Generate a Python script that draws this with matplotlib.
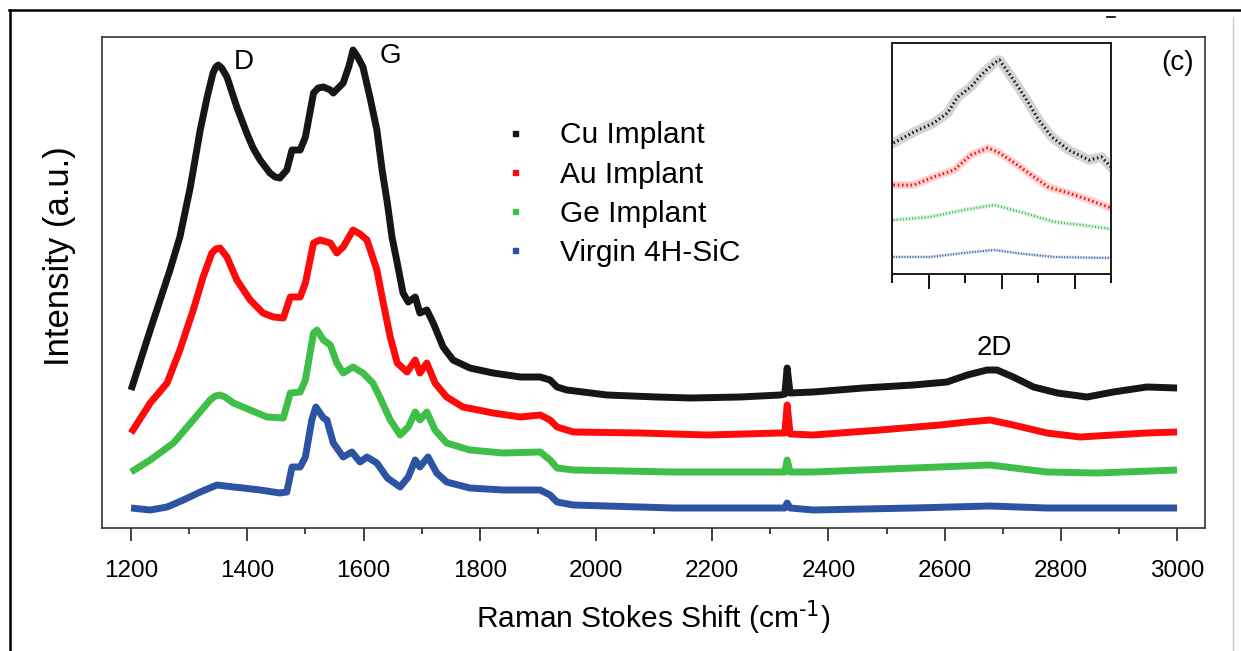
import matplotlib
matplotlib.use("Agg")
import matplotlib.pyplot as plt
from matplotlib.lines import Line2D
from matplotlib.ticker import MultipleLocator, NullFormatter

plt.rcParams['font.family'] = ['Liberation Sans', 'DejaVu Sans']

# ---------------- data ----------------
series_names = ["Cu Implant", "Au Implant", "Ge Implant", "Virgin 4H-SiC"]
series_colors = ["#161616", "#ff0a0a", "#3fbf48", "#2d54a3"]

cu_x = [1200, 1233, 1267, 1284, 1302, 1319, 1331, 1341, 1346, 1350, 1356, 1365, 1382, 1399, 1410,
        1422, 1439, 1448, 1456, 1468, 1477, 1491, 1500, 1514, 1522, 1531, 1543, 1548, 1565, 1575,
        1582, 1590, 1599, 1611, 1623, 1632, 1641, 1649, 1658, 1668, 1677, 1689, 1697, 1709, 1720,
        1737, 1754, 1783, 1823, 1870, 1904, 1921, 1933, 1950, 2019, 2105, 2162, 2248, 2317, 2325,
        2329, 2334, 2374, 2460, 2546, 2604, 2639, 2673, 2690, 2718, 2753, 2794, 2845, 2890, 2948,
        3000]
cu_y = [138, 198, 258, 291, 341, 398, 431, 455, 461, 463, 460, 451, 421, 395, 380,
        368, 355, 351, 350, 358, 378, 378, 391, 435, 440, 441, 438, 435, 445, 462,
        478, 471, 461, 431, 398, 358, 325, 291, 265, 235, 226, 231, 215, 218, 205,
        181, 168, 160, 155, 151, 151, 148, 141, 138, 133, 131, 130, 131, 133, 134,
        160, 135, 136, 140, 143, 146, 153, 158, 158, 151, 141, 135, 131, 136, 141,
        140]

au_x = [1200, 1233, 1262, 1284, 1307, 1324, 1339, 1346, 1353, 1365, 1382, 1405, 1427, 1445, 1462,
        1474, 1491, 1500, 1514, 1525, 1543, 1554, 1565, 1582, 1594, 1606, 1623, 1634, 1646, 1658,
        1675, 1689, 1697, 1709, 1723, 1743, 1771, 1823, 1870, 1904, 1921, 1933, 1961, 2076, 2191,
        2317, 2325, 2329, 2334, 2374, 2489, 2592, 2639, 2678, 2718, 2776, 2833, 2890, 2948, 3000]
au_y = [95, 125, 145, 178, 218, 251, 275, 279, 280, 271, 248, 228, 215, 211, 210,
        231, 231, 245, 285, 288, 285, 275, 281, 298, 294, 288, 258, 225, 191, 165,
        156, 168, 155, 165, 145, 131, 121, 115, 111, 113, 108, 101, 96, 95, 93,
        95, 95, 123, 94, 93, 98, 103, 106, 108, 103, 95, 91, 93, 95, 96]

ge_x = [1200, 1233, 1273, 1307, 1336, 1345, 1353, 1362, 1376, 1405, 1434, 1462, 1474, 1491, 1500,
        1514, 1520, 1531, 1543, 1554, 1565, 1582, 1599, 1616, 1628, 1646, 1663, 1677, 1689, 1697,
        1709, 1723, 1743, 1783, 1840, 1904, 1921, 1933, 1961, 2133, 2317, 2325, 2329, 2334, 2374,
        2546, 2678, 2776, 2862, 3000]
ge_y = [56, 68, 85, 108, 128, 132, 133, 131, 125, 118, 111, 110, 135, 136, 148,
        195, 198, 188, 183, 165, 155, 161, 155, 145, 131, 108, 93, 101, 116, 108,
        116, 98, 85, 78, 75, 76, 68, 60, 58, 56, 56, 56, 68, 56, 56,
        60, 63, 56, 55, 58]

vir_x = [1200, 1233, 1262, 1290, 1319, 1348, 1376, 1393, 1422, 1456, 1468, 1477, 1491, 1500, 1511,
         1518, 1531, 1537, 1548, 1565, 1580, 1594, 1606, 1623, 1641, 1663, 1677, 1689, 1697, 1711,
         1726, 1743, 1783, 1840, 1904, 1921, 1933, 1961, 2133, 2317, 2325, 2329, 2334, 2374, 2546,
         2678, 2776, 3000]
vir_y = [20, 18, 21, 28, 36, 43, 41, 40, 38, 35, 36, 61, 61, 71, 108,
         121, 110, 108, 85, 71, 76, 66, 71, 65, 50, 41, 51, 68, 61, 71,
         55, 46, 40, 38, 38, 33, 26, 23, 20, 20, 20, 25, 20, 18, 20,
         22, 20, 20]

# inset (2D band, re-scaled)
in_cu_x = [2552, 2580, 2607, 2626, 2640, 2658, 2672, 2690, 2697, 2709, 2723, 2737, 2751, 2769,
           2792, 2820, 2837, 2850]
in_cu_y = [131, 142, 151, 161, 177, 187, 199, 211, 214, 202, 187, 171, 154, 137,
           124, 114, 117, 107]
in_au_x = [2552, 2580, 2607, 2635, 2658, 2681, 2695, 2718, 2741, 2764, 2792, 2820, 2850]
in_au_y = [89, 89, 97, 104, 119, 126, 122, 111, 99, 87, 81, 74, 66]
in_ge_x = [2552, 2602, 2648, 2690, 2731, 2773, 2810, 2850]
in_ge_y = [54, 57, 64, 69, 61, 52, 49, 45]
in_vir_x = [2552, 2602, 2648, 2690, 2731, 2773, 2850]
in_vir_y = [17, 17, 21, 24, 20, 17, 16]

x_ticks = [1200, 1400, 1600, 1800, 2000, 2200, 2400, 2600, 2800, 3000]

# ---------------- figure ----------------
W, H = 1241, 651
fig = plt.figure(figsize=(W / 100, H / 100), dpi=100)

def fx(px):
    return px / W

def fy(py):
    return 1 - py / H

ax = fig.add_axes([fx(102), fy(528), fx(1205) - fx(102), fy(37) - fy(528)])

main_series = [(cu_x, cu_y), (au_x, au_y), (ge_x, ge_y), (vir_x, vir_y)]
for (xs, ys), c in zip(main_series, series_colors):
    ax.plot(xs, ys, color=c, lw=5.0, solid_joinstyle='round', solid_capstyle='butt')

ax.set_xlim(1150, 3048)
ax.set_ylim(0, 491)
ax.set_xticks(x_ticks)
ax.set_xticklabels([str(t) for t in x_ticks])
ax.xaxis.set_minor_locator(MultipleLocator(100))
ax.set_yticks([])
ax.tick_params(axis='x', which='major', direction='out', length=9, width=1.2,
               labelsize=17.5, pad=14, color='#222222')
ax.tick_params(axis='x', which='minor', direction='out', length=4.5, width=1.2, color='#222222')
for s in ax.spines.values():
    s.set_color('#333333')
    s.set_linewidth(1.2)

ax.set_xlabel(r"Raman Stokes Shift (cm$^{\text{-1}}$)", fontsize=21.5, labelpad=12)
ax.set_ylabel("Intensity (a.u.)", fontsize=25)
ax.yaxis.set_label_coords(-0.024, 0.554)

# annotations
ax.text(1377, 459, "D", fontsize=20, ha='left', va='baseline')
ax.text(1627, 465, "G", fontsize=20, ha='left', va='baseline')
ax.text(2685, 173, "2D", fontsize=20, ha='center', va='baseline')

# legend
handles = [Line2D([], [], marker='s', ls='none', color=c, markersize=3.6) for c in series_colors]
leg = ax.legend(handles, series_names, loc='upper left', bbox_to_anchor=(0.361, 0.828),
                frameon=False, fontsize=21.5, handlelength=1.0, handletextpad=1.0,
                labelspacing=0.37, borderpad=0, borderaxespad=0)

# inset
axi = fig.add_axes([fx(892), fy(274), fx(1111) - fx(892), fy(43) - fy(274)])
inset_series = [(in_cu_x, in_cu_y, 2.2, 7.0), (in_au_x, in_au_y, 2.2, 5.5),
                (in_ge_x, in_ge_y, 1.6, 3.2), (in_vir_x, in_vir_y, 1.4, 2.4)]
for (xs, ys, lw, band), c in zip(inset_series, series_colors):
    axi.plot(xs, ys, color=c, lw=band, alpha=0.18, solid_joinstyle='round')
    axi.plot(xs, ys, color=c, lw=lw, ls=(0, (0.5, 0.9)))
axi.set_xlim(2550, 2850)
axi.set_ylim(0, 231)
axi.set_xticks([2600, 2700, 2800])
axi.xaxis.set_minor_locator(MultipleLocator(50))
axi.xaxis.set_major_formatter(NullFormatter())
axi.set_yticks([])
axi.tick_params(axis='x', which='major', direction='out', length=11, width=1.3)
axi.tick_params(axis='x', which='minor', direction='out', length=6.5, width=1.3)
for s in axi.spines.values():
    s.set_color('#1a1a1a')
    s.set_linewidth(1.4)

fig.text(fx(1178), fy(63), "(c)", fontsize=20, ha='center', va='center')

# outer frame pieces of the original figure
fig.add_artist(Line2D([fx(9.5), fx(9.5)], [fy(9.5), 0], color='black', lw=1.8,
                      transform=fig.transFigure))
fig.add_artist(Line2D([fx(8.5), 1], [fy(9.5), fy(9.5)], color='black', lw=1.8,
                      transform=fig.transFigure))
fig.add_artist(Line2D([fx(1232.5), fx(1232.5)], [fy(17), 0], color='#cccccc', lw=1.0,
                      transform=fig.transFigure))
fig.add_artist(Line2D([fx(1107), fx(1115)], [fy(17), fy(17)], color='black', lw=1.2,
                      transform=fig.transFigure))

fig.savefig("out.png", dpi=100)
